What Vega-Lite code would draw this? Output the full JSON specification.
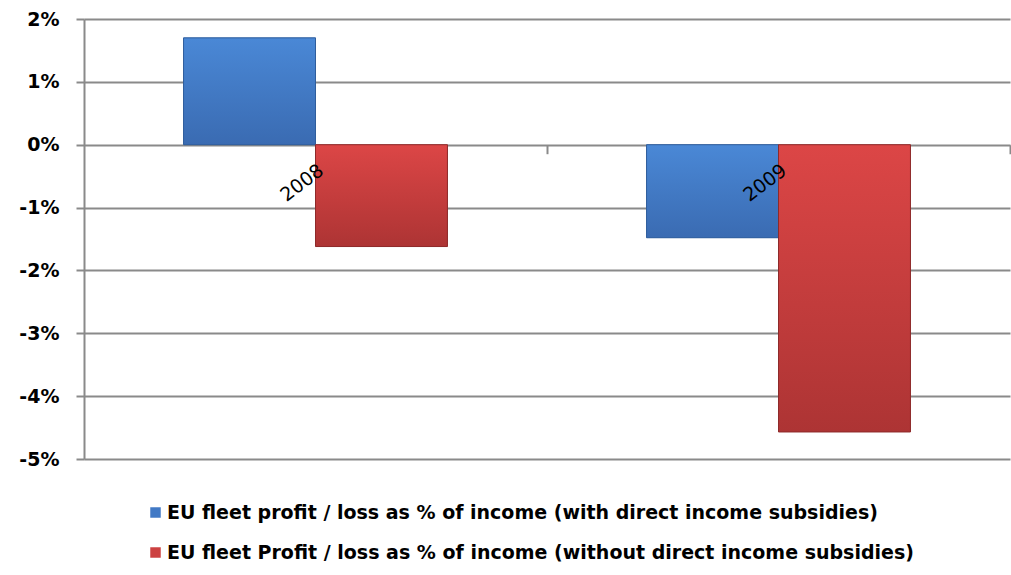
{
  "$schema": "https://vega.github.io/schema/vega-lite/v6.json",
  "autosize": {"type": "none"},
  "width": 926,
  "height": 440,
  "padding": {"left": 84, "top": 19, "right": 1, "bottom": 116},
  "background": "white",
  "config": {"view": {"stroke": null}},
  "data": {
    "values": [
      {"year": "2008", "series": "EU fleet profit / loss as % of income (with direct income subsidies)", "value": 0.017},
      {"year": "2008", "series": "EU fleet Profit / loss as % of income (without direct income subsidies)", "value": -0.0162},
      {"year": "2009", "series": "EU fleet profit / loss as % of income (with direct income subsidies)", "value": -0.0148},
      {"year": "2009", "series": "EU fleet Profit / loss as % of income (without direct income subsidies)", "value": -0.0457}
    ]
  },
  "encoding": {
    "x": {
      "field": "year",
      "type": "nominal",
      "title": null,
      "scale": {"paddingInner": 0.43, "paddingOuter": 0.215},
      "axis": {
        "orient": "bottom",
        "offset": -314.3,
        "domain": false,
        "tickOffset": 231.5,
        "labelOffset": -231.5,
        "tickSize": 9,
        "tickWidth": 2,
        "tickColor": "#8a8a8a",
        "tickOpacity": 1,
        "labelAngle": -37,
        "labelAlign": "right",
        "labelBaseline": "top",
        "labelPadding": 7,
        "labelFont": "DejaVu Sans",
        "labelFontSize": 19,
        "labelColor": "#000000",
        "zindex": 1
      }
    },
    "xOffset": {
      "field": "series",
      "type": "nominal",
      "sort": ["EU fleet profit / loss as % of income (with direct income subsidies)", "EU fleet Profit / loss as % of income (without direct income subsidies)"]
    },
    "y": {
      "field": "value",
      "type": "quantitative",
      "title": null,
      "scale": {"domain": [-0.05, 0.02], "nice": false},
      "axis": {
        "values": [-0.05, -0.04, -0.03, -0.02, -0.01, 0, 0.01, 0.02],
        "format": ".0%",
        "labelExpr": "replace(datum.label, '\u2212', '-')",
        "domainColor": "#8a8a8a",
        "domainWidth": 2,
        "gridColor": "#8a8a8a",
        "gridWidth": 2,
        "gridOpacity": 1,
        "tickColor": "#8a8a8a",
        "tickWidth": 2,
        "tickSize": 8,
        "labelPadding": 17,
        "labelFont": "DejaVu Sans",
        "labelFontWeight": "bold",
        "labelFontSize": 19,
        "labelColor": "#000000"
      }
    }
  },
  "layer": [
    {
      "mark": {"type": "bar"},
      "encoding": {
        "color": {
          "field": "series",
          "type": "nominal",
          "title": null,
          "sort": ["EU fleet profit / loss as % of income (with direct income subsidies)", "EU fleet Profit / loss as % of income (without direct income subsidies)"],
          "scale": {"range": ["#4179c5", "#cc4141"]},
          "legend": {
            "orient": "none",
            "legendX": 62,
            "legendY": 484,
            "direction": "vertical",
            "symbolType": "square",
            "symbolSize": 110,
            "symbolStrokeWidth": 0,
            "labelFont": "DejaVu Sans",
            "labelFontWeight": "bold",
            "labelFontSize": 19,
            "labelColor": "#000000",
            "labelLimit": 0,
            "labelOffset": 2,
            "rowPadding": 20,
            "padding": 0
          }
        }
      }
    },
    {
      "transform": [{"filter": "datum.series === 'EU fleet profit / loss as % of income (with direct income subsidies)'"}],
      "mark": {
        "type": "bar",
        "stroke": "#2f5d9c",
        "strokeWidth": 1,
        "color": {"gradient": "linear", "x1": 0, "y1": 0, "x2": 0, "y2": 1, "stops": [{"offset": 0, "color": "#4a88d6"}, {"offset": 1, "color": "#3a6bb2"}]}
      }
    },
    {
      "transform": [{"filter": "datum.series === 'EU fleet Profit / loss as % of income (without direct income subsidies)'"}],
      "mark": {
        "type": "bar",
        "stroke": "#8e2a2a",
        "strokeWidth": 1,
        "color": {"gradient": "linear", "x1": 0, "y1": 0, "x2": 0, "y2": 1, "stops": [{"offset": 0, "color": "#dc4646"}, {"offset": 1, "color": "#ad3434"}]}
      }
    }
  ]
}
